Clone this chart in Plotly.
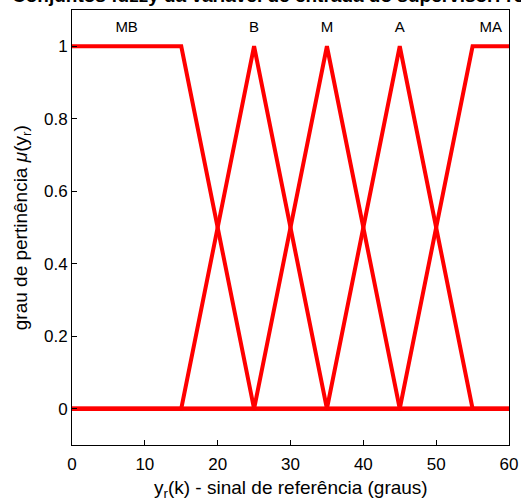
import plotly.graph_objects as go

# Membership functions (x breakpoints and membership values)
set_names = ["MB", "B", "M", "A", "MA"]
mb_x = [0, 15, 25, 60]
mb_y = [1, 1, 0, 0]
b_x = [0, 15, 25, 35, 60]
b_y = [0, 0, 1, 0, 0]
m_x = [0, 25, 35, 45, 60]
m_y = [0, 0, 1, 0, 0]
a_x = [0, 35, 45, 55, 60]
a_y = [0, 0, 1, 0, 0]
ma_x = [0, 45, 55, 60]
ma_y = [0, 0, 1, 1]
label_x = [7.5, 25, 35, 45, 57.5]
label_y = [1.05, 1.05, 1.05, 1.05, 1.05]

x_ticks = [0, 10, 20, 30, 40, 50, 60]
y_ticks = [0, 0.2, 0.4, 0.6, 0.8, 1]

FONT = "Liberation Sans, Arial"

fig = go.Figure()
for xs, ys in [(mb_x, mb_y), (b_x, b_y), (m_x, m_y), (a_x, a_y), (ma_x, ma_y)]:
    fig.add_trace(go.Scatter(x=xs, y=ys, mode="lines",
                             line=dict(color="#FF0000", width=4),
                             showlegend=False, hoverinfo="skip"))

fig.add_trace(go.Scatter(x=label_x, y=label_y, mode="text", text=set_names,
                         textfont=dict(family=FONT, size=15, color="black"),
                         showlegend=False, hoverinfo="skip"))

axis_common = dict(showline=True, linecolor="black", linewidth=1, mirror=True,
                   ticks="inside", ticklen=5, tickcolor="black", showgrid=False,
                   zeroline=False, automargin=False,
                   tickfont=dict(family=FONT, size=17, color="black"))

fig.update_layout(
    width=521, height=501,
    margin=dict(l=72, r=12, t=10, b=56, autoexpand=False),
    plot_bgcolor="white", paper_bgcolor="white",
    xaxis=dict(range=[0, 60], tickvals=x_ticks, ticklabelstandoff=4, **axis_common),
    yaxis=dict(range=[-0.1, 1.1], tickvals=y_ticks,
               ticktext=["0", "0.2", "0.4", "0.6", "0.8", "1"], **axis_common),
    annotations=[
        dict(text="<b>Conjuntos fuzzy da variável de entrada do supervisor: referência</b>",
             xref="paper", yref="paper", x=-0.142, y=1.005, xanchor="left", yanchor="bottom",
             showarrow=False, font=dict(family=FONT, size=19, color="black")),
        dict(text="y<sub>r</sub>(k) - sinal de referência (graus)", xref="paper", yref="paper",
             x=0.5, y=-0.102, xanchor="center", yanchor="middle", showarrow=False,
             font=dict(family=FONT, size=19, color="black")),
        dict(text="grau de pertinência <i>μ</i>(y<sub>r</sub>)", xref="paper", yref="paper",
             x=-0.115, y=0.5, xanchor="center", yanchor="middle", textangle=-90, showarrow=False,
             font=dict(family=FONT, size=19, color="black")),
    ],
)

fig.write_html("out.html", config={"displayModeBar": False},
               post_script="document.body.style.margin='0';")
